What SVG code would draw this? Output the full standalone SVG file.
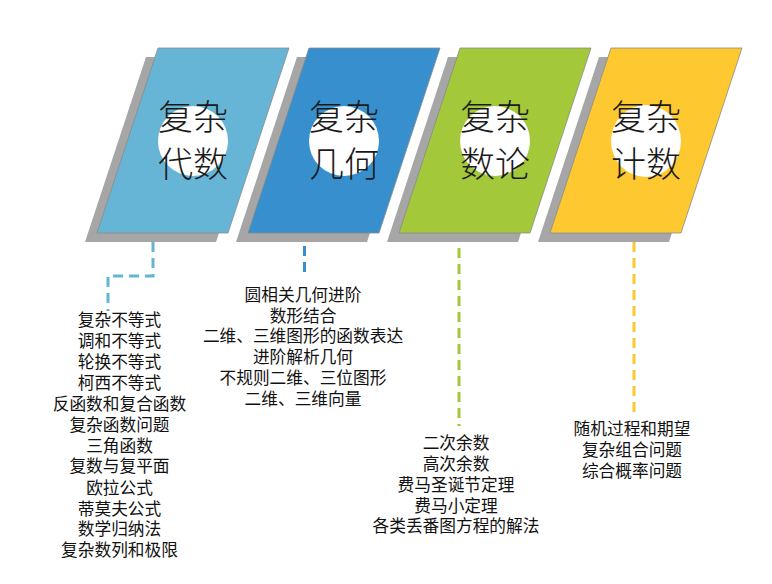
<svg xmlns="http://www.w3.org/2000/svg" width="772" height="584" viewBox="0 0 772 584">
<defs>
<style>
.shadow{fill:#A6A6A6;}
.panel{stroke:#8a8a8a;stroke-width:0.8;}
.title{font-family:"Noto Sans CJK SC","Noto Sans CJK JP",sans-serif;font-size:35px;font-weight:300;fill:#1a1a1a;text-anchor:middle;}
.list{font-family:"Noto Sans CJK SC","Noto Sans CJK JP",sans-serif;font-size:16.7px;fill:#111;text-anchor:middle;}
.conn{fill:none;stroke-width:3;stroke-dasharray:10 6;}
</style>
<path id="para" d="M158,48 L289,48 L228,233 L97,233 Z"/>
</defs>
<rect width="772" height="584" fill="#fff"/>

<g id="node-algebra">
<use href="#para" class="shadow" transform="translate(-12,9)"/>
<use href="#para" class="panel" fill="#67B5D6"/>
<ellipse cx="193" cy="141" rx="35" ry="35" fill="#fff"/>
<text class="title" x="193" y="130">复杂</text>
<text class="title" x="193" y="177">代数</text>
</g>

<g id="node-geometry">
<use href="#para" class="shadow" transform="translate(139,9)"/>
<use href="#para" class="panel" fill="#388FCD" transform="translate(151,0)"/>
<ellipse cx="344" cy="141" rx="35" ry="35" fill="#fff"/>
<text class="title" x="344" y="130">复杂</text>
<text class="title" x="344" y="177">几何</text>
</g>

<g id="node-number">
<use href="#para" class="shadow" transform="translate(290,9)"/>
<use href="#para" class="panel" fill="#A3C839" transform="translate(302,0)"/>
<ellipse cx="495" cy="141" rx="35" ry="35" fill="#fff"/>
<text class="title" x="495" y="130">复杂</text>
<text class="title" x="495" y="177">数论</text>
</g>

<g id="node-counting">
<use href="#para" class="shadow" transform="translate(441,9)"/>
<use href="#para" class="panel" fill="#FEC830" transform="translate(453,0)"/>
<ellipse cx="646" cy="141" rx="35" ry="36" fill="#fff"/>
<text class="title" x="646" y="130">复杂</text>
<text class="title" x="646" y="177">计数</text>
</g>

<g id="connectors">
<path class="conn" stroke="#67B5D6" d="M153,242 V276 H108 V311"/>
<path class="conn" stroke="#388FCD" d="M304.5,246 V274"/>
<path class="conn" stroke="#A3C839" d="M459,248 V426"/>
<path class="conn" stroke="#FEC830" d="M634,242 V416"/>
</g>

<g id="list-algebra" class="list">
<text x="119.5" y="326">复杂不等式</text>
<text x="119.5" y="347">调和不等式</text>
<text x="119.5" y="368">轮换不等式</text>
<text x="119.5" y="389">柯西不等式</text>
<text x="119.5" y="410">反函数和复合函数</text>
<text x="119.5" y="431">复杂函数问题</text>
<text x="119.5" y="452">三角函数</text>
<text x="119.5" y="472">复数与复平面</text>
<text x="119.5" y="493.5">欧拉公式</text>
<text x="119.5" y="514.5">蒂莫夫公式</text>
<text x="119.5" y="535">数学归纳法</text>
<text x="119.5" y="556">复杂数列和极限</text>
</g>

<g id="list-geometry" class="list">
<text x="303" y="301">圆相关几何进阶</text>
<text x="303" y="321.5">数形结合</text>
<text x="303" y="342">二维、三维图形的函数表达</text>
<text x="303" y="363">进阶解析几何</text>
<text x="303" y="384">不规则二维、三位图形</text>
<text x="303" y="404.5">二维、三维向量</text>
</g>

<g id="list-number" class="list">
<text x="456" y="449">二次余数</text>
<text x="456" y="470">高次余数</text>
<text x="456" y="491">费马圣诞节定理</text>
<text x="456" y="511.5">费马小定理</text>
<text x="456" y="532">各类丢番图方程的解法</text>
</g>

<g id="list-counting" class="list">
<text x="632" y="435">随机过程和期望</text>
<text x="632" y="456">复杂组合问题</text>
<text x="632" y="477">综合概率问题</text>
</g>
</svg>
